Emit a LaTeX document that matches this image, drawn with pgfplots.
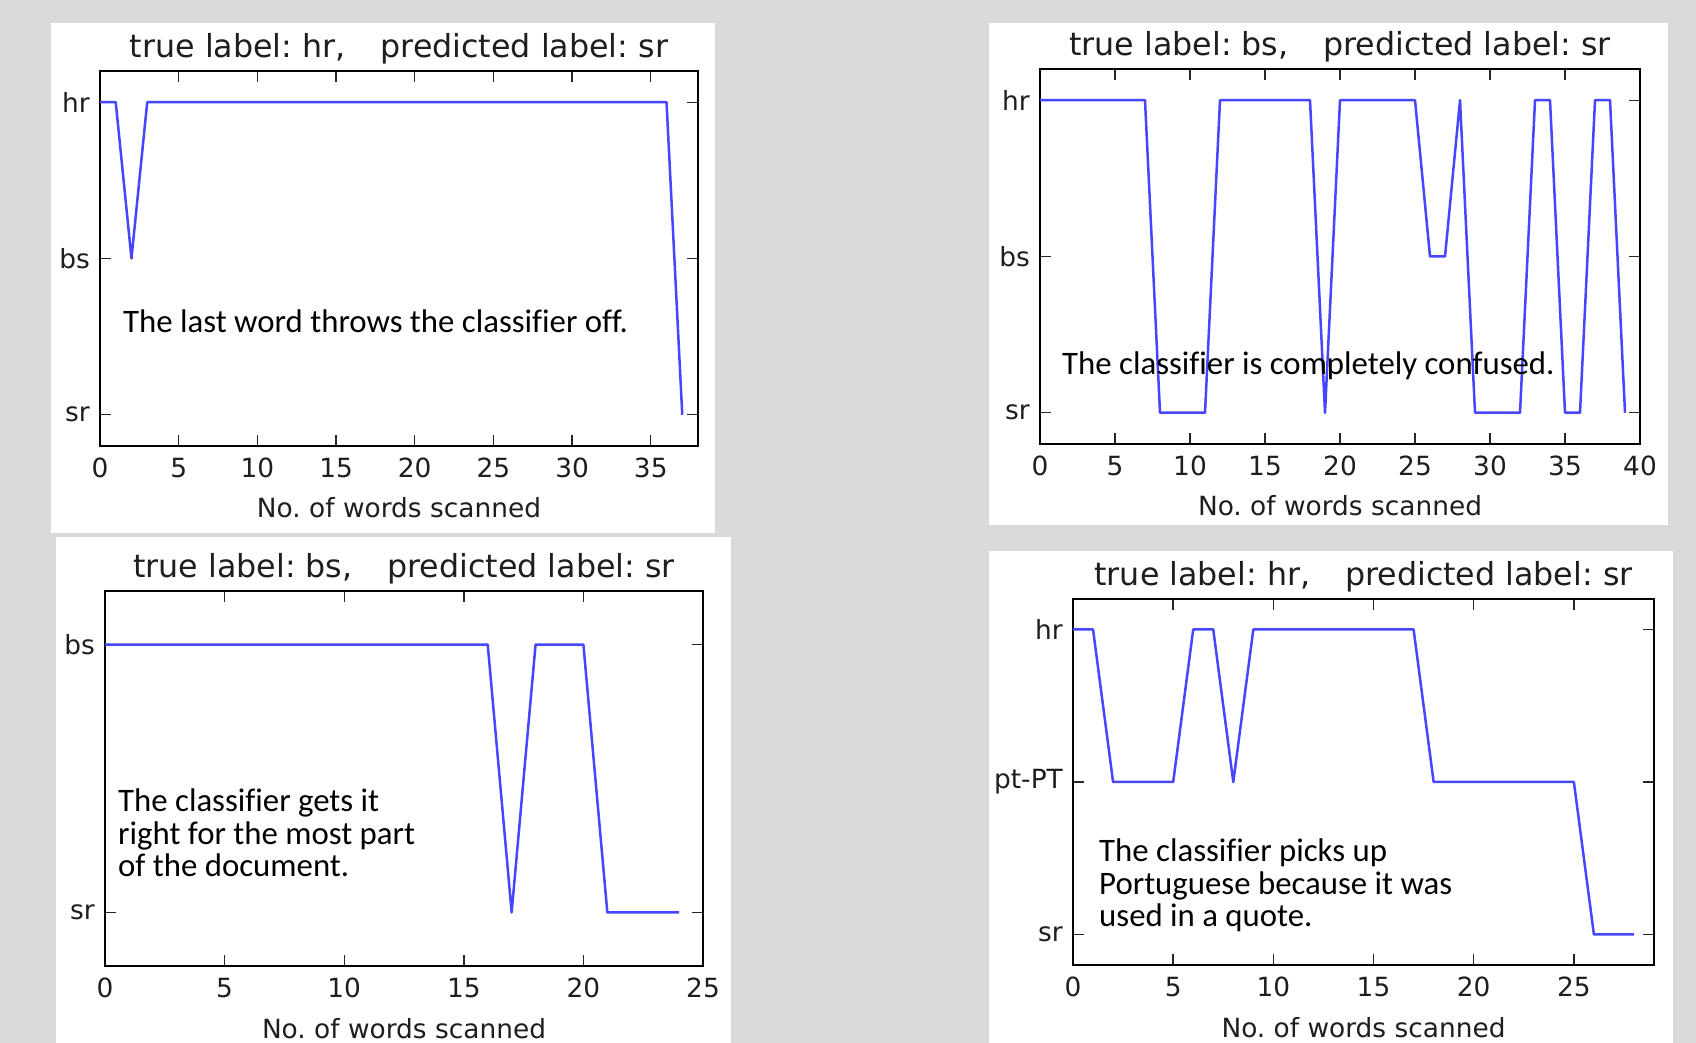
\documentclass[border=0pt]{standalone}
\usepackage{fontspec}
\usepackage{pgfplots}
\pgfplotsset{compat=1.18}
\setmainfont{DejaVu Sans}
\newfontfamily\annfont[Ligatures=CommonOff]{Carlito}
\frenchspacing
\definecolor{bggray}{RGB}{217,217,217}
\definecolor{lineblue}{RGB}{70,70,255}
\definecolor{txtdark}{RGB}{30,30,30}
\pgfplotsset{
  panel/.style={
    scale only axis, anchor=south west,
    tick align=inside, tick pos=both,
    major tick length=11pt,
    every tick/.style={line width=1.4pt, black!85},
    axis line style={line width=2pt, black},
    tick label style={font=\fontsize{26.4}{30}\selectfont, text=txtdark},
    /pgf/number format/assume math mode=true,
    xticklabel style={anchor=base, inner sep=0pt, yshift=-32pt},
    yticklabel style={anchor=east, inner sep=0pt, xshift=-10pt},
    title style={at={(axis description cs:0.5,1)}, anchor=base, yshift=7pt, inner sep=0pt,
      font=\fontsize{31.7}{36}\selectfont, text=txtdark},
    x label style={at={(axis description cs:0.5,0)}, anchor=base, yshift=-72pt, inner sep=0pt,
      font=\fontsize{26.4}{30}\selectfont, text=txtdark},
    xlabel={No. of words scanned},
    xmin=0, ymin=-0.2,
    no markers,
  },
  pline/.style={color=lineblue, line width=2.5pt, line join=round, mark=none},
}
\tikzset{ann/.style={anchor=base west, inner sep=0pt, font=\annfont\fontsize{32.8}{32.8}\selectfont, text=black}}
\begin{document}
\begin{tikzpicture}
\path[use as bounding box, fill=bggray] (0pt,0pt) rectangle (1696pt,1043pt);
\fill[white] (51pt,510pt) rectangle (715pt,1020pt);
\fill[white] (989pt,518pt) rectangle (1668pt,1020pt);
\fill[white] (56pt,0pt) rectangle (731pt,506pt);
\fill[white] (989pt,0pt) rectangle (1673pt,492pt);

% Panel 1
\begin{axis}[panel, at={(100pt,597pt)}, width=598pt, height=375pt,
  xmax=38, ymax=2.2, ytick={0,1,2}, yticklabels={sr,bs,hr},
  xtick={0,5,...,35},
  title={true label: hr,\hspace{1.1em}predicted label: sr}]
\addplot[pline] coordinates {(0,2)(1,2)(2,1)(3,2)(4,2)(5,2)(6,2)(7,2)(8,2)(9,2)(10,2)(11,2)(12,2)(13,2)(14,2)(15,2)(16,2)(17,2)(18,2)(19,2)(20,2)(21,2)(22,2)(23,2)(24,2)(25,2)(26,2)(27,2)(28,2)(29,2)(30,2)(31,2)(32,2)(33,2)(34,2)(35,2)(36,2)(37,0)};
\end{axis}

% Panel 2
\begin{axis}[panel, at={(1040pt,599pt)}, width=600pt, height=375pt,
  xmax=40, ymax=2.2, ytick={0,1,2}, yticklabels={sr,bs,hr},
  xtick={0,5,...,40},
  title={true label: bs,\hspace{1.1em}predicted label: sr}]
\addplot[pline] coordinates {(0,2)(1,2)(2,2)(3,2)(4,2)(5,2)(6,2)(7,2)(8,0)(9,0)(10,0)(11,0)(12,2)(13,2)(14,2)(15,2)(16,2)(17,2)(18,2)(19,0)(20,2)(21,2)(22,2)(23,2)(24,2)(25,2)(26,1)(27,1)(28,2)(29,0)(30,0)(31,0)(32,0)(33,2)(34,2)(35,0)(36,0)(37,2)(38,2)(39,0)};
\end{axis}

% Panel 3
\begin{axis}[panel, at={(105pt,77pt)}, width=598pt, height=375pt,
  xmax=25, ymax=1.2, ytick={0,1}, yticklabels={sr,bs},
  xtick={0,5,...,25},
  title={true label: bs,\hspace{1.1em}predicted label: sr}]
\addplot[pline] coordinates {(0,1)(1,1)(2,1)(3,1)(4,1)(5,1)(6,1)(7,1)(8,1)(9,1)(10,1)(11,1)(12,1)(13,1)(14,1)(15,1)(16,1)(17,0)(18,1)(19,1)(20,1)(21,0)(22,0)(23,0)(24,0)};
\end{axis}

% Panel 4
\begin{axis}[panel, at={(1073pt,78pt)}, width=581pt, height=366pt,
  xmax=29, ymax=2.2, ytick={0,1,2}, yticklabels={sr,pt-PT,hr},
  xtick={0,5,...,25},
  title={true label: hr,\hspace{1.1em}predicted label: sr}]
\addplot[pline] coordinates {(0,2)(1,2)(2,1)(3,1)(4,1)(5,1)(6,2)(7,2)(8,1)(9,2)(10,2)(11,2)(12,2)(13,2)(14,2)(15,2)(16,2)(17,2)(18,1)(19,1)(20,1)(21,1)(22,1)(23,1)(24,1)(25,1)(26,0)(27,0)(28,0)};
\end{axis}

\node[ann] at (123pt,710pt) {The last word throws the classifier off.};
\node[ann] at (1062pt,668pt) {The classifier is completely confused.};
\node[ann] at (118pt,231.3pt) {The classifier gets it};
\node[ann] at (118pt,198pt) {right for the most part};
\node[ann] at (118pt,166.3pt) {of the document.};
\node[ann] at (1099pt,181.3pt) {The classifier picks up};
\node[ann] at (1099pt,148pt) {Portuguese because it was};
\node[ann] at (1099pt,116pt) {used in a quote.};
\end{tikzpicture}
\end{document}
